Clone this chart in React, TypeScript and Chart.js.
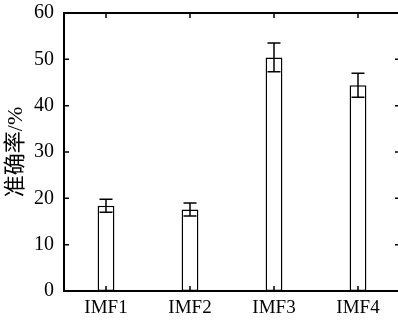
import React, { useEffect, useRef } from "react";
import { Chart, registerables } from "chart.js";

Chart.register(...registerables);

const categories = ["IMF1", "IMF2", "IMF3", "IMF4"];
const accuracy = [18.4, 17.6, 50.4, 44.4];
const errors = [1.4, 1.4, 3.1, 2.6];
const yMin = 0;
const yMax = 60;
const yStep = 10;
const yTitle = "准确率/%";

const FONT = "'Liberation Serif', 'Noto Sans CJK SC', serif";

const framePlugin = {
  id: "frameAndErrors",
  afterDatasetsDraw(chart: any) {
    const { ctx, chartArea, scales } = chart;
    const { left, right, top, bottom } = chartArea;
    const x = scales.x;
    const y = scales.y;
    ctx.save();
    ctx.strokeStyle = "#000";
    // error bars
    ctx.lineWidth = 1.5;
    const cap = 6.5;
    accuracy.forEach((v, i) => {
      const cx = x.getPixelForValue(i);
      const hi = y.getPixelForValue(v + errors[i]);
      const lo = y.getPixelForValue(v - errors[i]);
      ctx.beginPath();
      ctx.moveTo(cx, hi);
      ctx.lineTo(cx, lo);
      ctx.moveTo(cx - cap, hi);
      ctx.lineTo(cx + cap, hi);
      ctx.moveTo(cx - cap, lo);
      ctx.lineTo(cx + cap, lo);
      ctx.stroke();
    });
    // inward ticks
    ctx.lineWidth = 1.5;
    const tl = 5;
    ctx.beginPath();
    for (let v = yMin; v <= yMax; v += yStep) {
      const py = y.getPixelForValue(v);
      ctx.moveTo(left, py);
      ctx.lineTo(left + tl, py);
      ctx.moveTo(right, py);
      ctx.lineTo(right - tl, py);
    }
    categories.forEach((_, i) => {
      const px = x.getPixelForValue(i);
      ctx.moveTo(px, bottom);
      ctx.lineTo(px, bottom - tl);
      ctx.moveTo(px, top);
      ctx.lineTo(px, top + tl);
    });
    ctx.stroke();
    // frame
    ctx.lineWidth = 2;
    ctx.strokeRect(left, top, right - left, bottom - top);
    ctx.restore();
  },
};

export default function App() {
  const ref = useRef<HTMLCanvasElement>(null);
  useEffect(() => {
    document.body.style.margin = "0";
    const chart = new Chart(ref.current!, {
      type: "bar",
      data: {
        labels: categories,
        datasets: [
          {
            data: accuracy,
            backgroundColor: "#fff",
            borderColor: "#000",
            borderWidth: 1.5,
            borderSkipped: false,
            categoryPercentage: 1,
            barPercentage: 0.2,
          },
        ],
      },
      options: {
        responsive: false,
        animation: false,
        layout: { padding: { left: 0, top: 13, right: 2, bottom: 0 } },
        plugins: { legend: { display: false }, tooltip: { enabled: false } },
        scales: {
          x: {
            grid: { display: false, drawTicks: false },
            border: { display: false },
            ticks: { color: "#000", padding: 6, font: { family: FONT, size: 19 } },
            afterFit(scale: any) {
              scale.height = 31;
              scale.paddingLeft = 0;
              scale.paddingRight = 0;
            },
          },
          y: {
            min: yMin,
            max: yMax,
            grid: { display: false, drawTicks: false },
            border: { display: false },
            ticks: {
              stepSize: yStep,
              color: "#000",
              padding: 10,
              font: { family: FONT, size: 20 },
            },
            title: {
              display: true,
              text: yTitle,
              color: "#000",
              font: { family: FONT, size: 22 },
              padding: { top: 3, bottom: 0 },
            },
            afterFit(scale: any) {
              scale.width = 64;
              scale.paddingTop = 0;
              scale.paddingBottom = 0;
            },
          },
        },
      },
      plugins: [framePlugin],
    });
    return () => chart.destroy();
  }, []);
  return (
    <div
      style={{
        position: "absolute",
        left: 0,
        top: 0,
        width: 398,
        height: 322,
        overflow: "hidden",
        background: "#fff",
      }}
    >
      <canvas ref={ref} width={402} height={322} style={{ display: "block" }} />
    </div>
  );
}
